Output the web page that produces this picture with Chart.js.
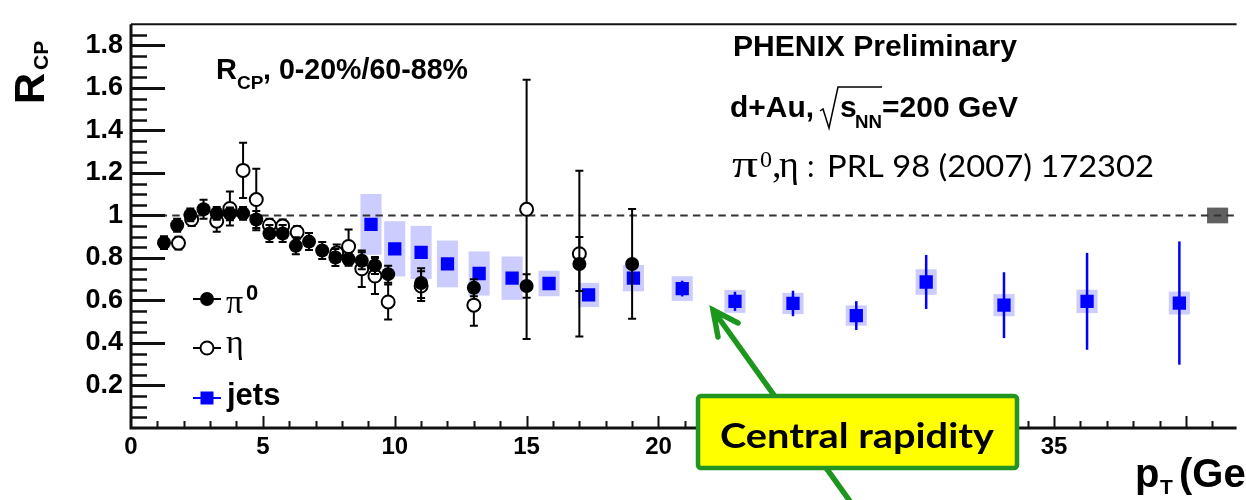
<!DOCTYPE html>
<html>
<head>
<meta charset="utf-8">
<script src="https://cdn.jsdelivr.net/npm/chart.js@4.4.0/dist/chart.umd.min.js"></script>
<style>
html, body { margin: 0; padding: 0; background: #fff; overflow: hidden; }
</style>
</head>
<body>
<canvas id="c" width="1246" height="500"></canvas>
<script>
// pi0 (filled circles)
const pi0X = [1.25, 1.75, 2.25, 2.75, 3.25, 3.75, 4.25, 4.75, 5.25, 5.75, 6.25, 6.75, 7.25, 7.75, 8.25, 8.75, 9.25, 9.75, 11.0, 13.0, 15.0, 17.0, 19.0]
const pi0Y = [0.872, 0.954, 1.003, 1.029, 1.01, 1.008, 1.01, 0.981, 0.915, 0.915, 0.857, 0.877, 0.835, 0.802, 0.794, 0.787, 0.765, 0.724, 0.682, 0.66, 0.668, 0.772, 0.772]
const pi0Err = [0.03, 0.03, 0.03, 0.045, 0.03, 0.03, 0.03, 0.04, 0.04, 0.04, 0.04, 0.04, 0.04, 0.04, 0.03, 0.04, 0.04, 0.04, 0.07, 0.04, 0.055, 0.127, 0.258]

// eta (open circles)
const etaX = [1.8, 2.3, 3.25, 3.75, 4.25, 4.75, 5.25, 5.75, 6.3, 7.8, 8.25, 8.75, 9.25, 9.75, 11.0, 13.0, 15.0, 17.0]
const etaY = [0.87, 0.981, 0.973, 1.033, 1.212, 1.075, 0.954, 0.951, 0.921, 0.824, 0.854, 0.749, 0.715, 0.593, 0.668, 0.578, 1.029, 0.82]
const etaErr = [0.03, 0.03, 0.05, 0.08, 0.13, 0.145, 0.03, 0.03, 0.03, 0.04, 0.08, 0.086, 0.085, 0.082, 0.07, 0.097, 0.61, 0.39]

// jets (blue squares, stat + sys)
const jetX = [9.1, 10.0, 11.0, 12.0, 13.2, 14.45, 15.85, 17.35, 19.05, 20.9, 22.9, 25.1, 27.5, 30.15, 33.1, 36.25, 39.75]
const jetY = [0.958, 0.843, 0.826, 0.772, 0.727, 0.705, 0.68, 0.626, 0.705, 0.656, 0.596, 0.586, 0.529, 0.687, 0.578, 0.596, 0.588]
const jetStat = [0.01, 0.01, 0.01, 0.01, 0.01, 0.01, 0.01, 0.01, 0.02, 0.037, 0.045, 0.06, 0.068, 0.127, 0.155, 0.228, 0.29]
const jetSys = [0.143, 0.13, 0.125, 0.11, 0.104, 0.102, 0.06, 0.057, 0.062, 0.058, 0.054, 0.05, 0.048, 0.06, 0.052, 0.055, 0.054]

// normalization uncertainty box at R=1
const normX = [41.2]
const normY = [1]
const normErr = [0.037]

const xTicks = [0, 5, 10, 15, 20, 25, 30, 35]
const xTickLabels = ['0', '5', '10', '15', '20', '25', '30', '35']
const yTicks = [0.2, 0.4, 0.6, 0.8, 1, 1.2, 1.4, 1.6, 1.8]
const yTickLabels = ['0.2', '0.4', '0.6', '0.8', '1', '1.2', '1.4', '1.6', '1.8']

const SANS = 'Liberation Sans'
const SERIF = 'Liberation Serif'

function pts(xs, ys) {
	return xs.map((x, i) => ({ x: x, y: ys[i] }))
}

function errBar(ctx, sx, sy, xv, yv, e, cap) {
	const px = sx.getPixelForValue(xv)
	const t = sy.getPixelForValue(yv + e)
	const b = sy.getPixelForValue(yv - e)
	ctx.beginPath()
	ctx.moveTo(px, t)
	ctx.lineTo(px, b)
	if (cap) {
		ctx.moveTo(px - cap, t); ctx.lineTo(px + cap, t)
		ctx.moveTo(px - cap, b); ctx.lineTo(px + cap, b)
	}
	ctx.stroke()
}

// squeeze/stretch a text horizontally to a given width
function fitText(ctx, txt, x, y, w) {
	const m = ctx.measureText(txt).width
	ctx.save()
	ctx.translate(x, y)
	ctx.scale(w / m, 1)
	ctx.fillText(txt, 0, 0)
	ctx.restore()
}

const decor = {
	id: 'decor',
	beforeDatasetsDraw(chart) {
		const { ctx, chartArea: a, scales: { x, y } } = chart
		ctx.save()
		// systematic boxes
		ctx.fillStyle = '#ccccff'
		jetX.forEach((v, i) => {
			const l = x.getPixelForValue(v - 0.4), r = x.getPixelForValue(v + 0.4)
			const t = y.getPixelForValue(jetY[i] + jetSys[i]), b = y.getPixelForValue(jetY[i] - jetSys[i])
			ctx.fillRect(l, t, r - l, b - t)
		})
		ctx.fillStyle = '#606060'
		normX.forEach((v, i) => {
			const l = x.getPixelForValue(v - 0.4), r = x.getPixelForValue(v + 0.4)
			const t = y.getPixelForValue(normY[i] + normErr[i]), b = y.getPixelForValue(normY[i] - normErr[i])
			ctx.fillRect(l, t, r - l, b - t)
		})
		// dashed line at 1
		ctx.strokeStyle = '#333'
		ctx.lineWidth = 2
		ctx.setLineDash([7.5, 5.2])
		ctx.beginPath()
		ctx.moveTo(x.getPixelForValue(0.6), y.getPixelForValue(1))
		ctx.lineTo(a.right, y.getPixelForValue(1))
		ctx.stroke()
		ctx.setLineDash([])

		// frame and ticks
		ctx.strokeStyle = '#111'
		ctx.lineWidth = 2
		ctx.beginPath()
		ctx.moveTo(a.left, a.top); ctx.lineTo(a.right, a.top)
		ctx.stroke()
		ctx.lineWidth = 3
		ctx.beginPath()
		ctx.moveTo(a.left, a.top); ctx.lineTo(a.left, a.bottom); ctx.lineTo(a.right, a.bottom)
		ctx.stroke()
		for (let k = 1; k <= 37; k++) {
			const py = Math.round(y.getPixelForValue(k * 0.05)) + 0.5
			const len = k % 4 === 0 ? 34 : 16
			ctx.lineWidth = k % 4 === 0 ? 3 : 2.5
			ctx.beginPath(); ctx.moveTo(a.left, py); ctx.lineTo(a.left + len, py); ctx.stroke()
		}
		ctx.lineWidth = 2
		for (let k = 1; k <= 41; k++) {
			const px = Math.round(x.getPixelForValue(k)) + 0.5
			const len = k % 5 === 0 ? 12 : 7
			ctx.beginPath(); ctx.moveTo(px, a.bottom); ctx.lineTo(px, a.bottom - len); ctx.stroke()
		}
		ctx.restore()
	},
	beforeDatasetDraw(chart, args) {
		const { ctx, scales: { x, y } } = chart
		ctx.save()
		ctx.lineWidth = 2
		if (args.index === 2) {
			ctx.strokeStyle = '#0000ff'
			ctx.lineWidth = 2.5
			jetX.forEach((v, i) => errBar(ctx, x, y, v, jetY[i], jetStat[i], 0))
		} else if (args.index === 1) {
			ctx.strokeStyle = '#000'
			etaX.forEach((v, i) => errBar(ctx, x, y, v, etaY[i], etaErr[i], 4))
		} else if (args.index === 0) {
			ctx.strokeStyle = '#000'
			pi0X.forEach((v, i) => errBar(ctx, x, y, v, pi0Y[i], pi0Err[i], 4))
		}
		ctx.restore()
	},
	afterDraw(chart) {
		const ctx = chart.ctx
		ctx.save()
		ctx.fillStyle = '#000'
		ctx.textBaseline = 'alphabetic'
		ctx.textAlign = 'left'

		// legend
		const leg = [
			{ y: 299, col: '#000' },
			{ y: 348, col: '#000' },
			{ y: 398, col: '#0000ff' }
		]
		leg.forEach(l => {
			ctx.strokeStyle = l.col
			ctx.lineWidth = 2
			ctx.beginPath(); ctx.moveTo(193, l.y); ctx.lineTo(221, l.y); ctx.stroke()
		})
		ctx.fillStyle = '#000'
		ctx.beginPath(); ctx.arc(207, 299, 7, 0, Math.PI * 2); ctx.fill()
		ctx.fillStyle = '#fff'; ctx.strokeStyle = '#000'; ctx.lineWidth = 2
		ctx.beginPath(); ctx.arc(207, 348, 6.5, 0, Math.PI * 2); ctx.fill(); ctx.stroke()
		ctx.fillStyle = '#0000ff'
		ctx.fillRect(200.5, 391.5, 13, 13)

		ctx.fillStyle = '#000'
		ctx.font = '34px ' + SERIF
		ctx.fillText('\u03c0', 226, 313)
		ctx.font = 'bold 22px ' + SANS
		ctx.fillText('0', 246, 300)
		ctx.font = '34px ' + SERIF
		ctx.fillText('\u03b7', 226, 353)
		ctx.font = 'bold 31px ' + SANS
		ctx.fillText('jets', 227, 405)

		// R_CP, 0-20%/60-88%
		ctx.font = 'bold 29px ' + SANS
		ctx.fillText('R', 216, 79)
		ctx.font = 'bold 19px ' + SANS
		ctx.fillText('CP', 237, 89)
		ctx.font = 'bold 29px ' + SANS
		fitText(ctx, ', 0-20%/60-88%', 263, 79, 205)

		// PHENIX Preliminary
		ctx.font = 'bold 30px ' + SANS
		fitText(ctx, 'PHENIX Preliminary', 733, 56, 284)
		fitText(ctx, 'd+Au,', 730, 117, 84)
		ctx.strokeStyle = '#000'
		ctx.lineWidth = 1.5
		ctx.beginPath()
		ctx.moveTo(820, 111); ctx.lineTo(823, 109); ctx.lineTo(829, 128); ctx.lineTo(838, 87); ctx.lineTo(882, 87)
		ctx.stroke()
		ctx.fillText('s', 840, 117)
		ctx.font = 'bold 18px ' + SANS
		fitText(ctx, 'NN', 855, 128, 27)
		ctx.font = 'bold 30px ' + SANS
		fitText(ctx, '=200 GeV', 882, 117, 136)

		// pi0, eta : PRL
		ctx.font = '38px ' + SERIF
		fitText(ctx, '\u03c0', 732, 177, 26)
		ctx.font = '24px ' + SERIF
		ctx.fillText('0', 760, 167)
		ctx.font = '38px ' + SERIF
		ctx.fillText(',', 772, 177)
		ctx.fillText('\u03b7', 779, 177)
		ctx.font = '30px Lato'
		ctx.fillText(':', 807, 177)
		fitText(ctx, 'PRL 98 (2007) 172302', 827, 177, 327)

		// axis titles
		ctx.save()
		ctx.translate(44, 104)
		ctx.rotate(-Math.PI / 2)
		ctx.font = 'bold 43px ' + SANS
		ctx.fillText('R', 0, 0)
		ctx.font = 'bold 21px ' + SANS
		ctx.fillText('CP', 34, 4)
		ctx.restore()

		ctx.font = 'bold 40px ' + SANS
		ctx.fillText('p', 1135, 487)
		ctx.font = 'bold 21px ' + SANS
		ctx.fillText('T', 1160, 494)
		ctx.font = 'bold 40px ' + SANS
		ctx.fillText('(GeV)', 1179, 487)

		// green arrow + Central rapidity box
		ctx.strokeStyle = '#1c961c'
		ctx.lineWidth = 5.5
		ctx.lineCap = 'round'
		ctx.beginPath()
		ctx.moveTo(713, 310); ctx.lineTo(862, 518)
		ctx.moveTo(718, 337); ctx.lineTo(713, 310); ctx.lineTo(738, 323)
		ctx.stroke()
		ctx.fillStyle = '#ffff00'
		ctx.strokeStyle = '#229422'
		ctx.lineWidth = 4.5
		ctx.beginPath()
		ctx.roundRect(698, 396, 319, 72, 3)
		ctx.fill(); ctx.stroke()
		ctx.fillStyle = '#000'
		ctx.font = 'bold 35px Lato'
		fitText(ctx, 'Central rapidity', 720, 448, 274)
		ctx.restore()
	}
}

function drawChart(id) {
	const data = {
		datasets: [{
			label: 'pi0',
			data: pts(pi0X, pi0Y),
			pointStyle: 'circle',
			pointRadius: 7,
			backgroundColor: '#000',
			borderColor: '#000',
			borderWidth: 0,
			showLine: false,
			order: 0
		}, {
			label: 'eta',
			data: pts(etaX, etaY),
			pointStyle: 'circle',
			pointRadius: 6.5,
			backgroundColor: '#fff',
			borderColor: '#000',
			borderWidth: 2,
			showLine: false,
			order: 1
		}, {
			label: 'jets',
			data: pts(jetX, jetY),
			pointStyle: 'rect',
			pointRadius: 9.4,
			backgroundColor: '#0000ff',
			borderColor: '#0000ff',
			borderWidth: 0,
			showLine: false,
			order: 2
		}]
	}
	const config = {
		type: 'scatter',
		data: data,
		options: {
			responsive: false,
			animation: false,
			devicePixelRatio: 1,
			events: [],
			layout: { padding: { top: 5, left: 0, right: 0, bottom: 0 } },
			plugins: { legend: { display: false }, tooltip: { enabled: false } },
			scales: {
				x: {
					type: 'linear',
					min: 0,
					max: 41.92,
					afterBuildTicks: s => { s.ticks = xTicks.map(v => ({ value: v })) },
					afterFit: s => { s.height = 72 },
					grid: { display: false, drawTicks: false },
					border: { display: false },
					ticks: {
						autoSkip: false,
						maxRotation: 0,
						padding: 5,
						color: '#000',
						font: { family: SANS, weight: 'bold', size: 24 },
						callback: (v, i) => xTickLabels[i]
					}
				},
				y: {
					type: 'linear',
					min: 0,
					max: 1.9,
					afterBuildTicks: s => { s.ticks = yTicks.map(v => ({ value: v })) },
					afterFit: s => { s.width = 131 },
					grid: { display: false, drawTicks: false },
					border: { display: false },
					ticks: {
						padding: 8,
						color: '#000',
						font: { family: SANS, weight: 'bold', size: 27 },
						callback: (v, i) => yTickLabels[i]
					}
				}
			}
		},
		plugins: [decor]
	}
	let ctx = document.getElementById(id).getContext('2d')
	new Chart(ctx, config)
}

drawChart('c')
</script>
</body>
</html>
